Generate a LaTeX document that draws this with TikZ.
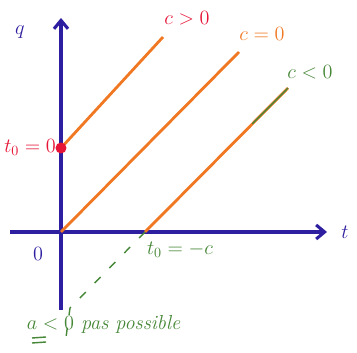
\documentclass[tikz,border=0pt]{standalone}
\usepackage{amsmath,amssymb}
\usepackage{tikz}
\usetikzlibrary{arrows.meta,calc}

\definecolor{axisblue}{RGB}{46,30,160}
\definecolor{lineorange}{RGB}{240,120,35}
\definecolor{penred}{RGB}{230,20,55}
\definecolor{pengreen}{RGB}{70,135,55}

\begin{document}
\begin{tikzpicture}[x=0.25mm,y=-0.25mm,>={Straight Barb[length=6pt,width=10pt]},
  axis/.style={->,line width=2.2pt,color=axisblue},
  traj/.style={line width=2pt,color=lineorange},
  lab/.style={font=\Large\itshape}]
  \useasboundingbox (0,0) rectangle (357,353);
  \coordinate (O) at (61,232);
  \coordinate (Ybot) at (61,310);
  \coordinate (Ytop) at (61,18);
  \coordinate (Xleft) at (10,232);
  \coordinate (Xright) at (327,232);
  \coordinate (P) at (61,148);
  \coordinate (Q) at (145,232);
  \coordinate (Pend) at (163,37);
  \coordinate (Oend) at (239,52);
  \coordinate (Qend) at (288,88);
  \coordinate (D1) at (70,308);
  \coordinate (D2) at (65,345);
  % axes
  \draw[axis] (Ybot) -- (Ytop);
  \draw[axis] (Xleft) -- (Xright);
  \node[lab,text=axisblue] (qlab) at (20,32) {$q$};
  \node[lab,text=axisblue] (tlab) at (345,232) {$t$};
  \node[lab,text=axisblue] (zero) at (38,254) {$0$};
  % trajectoires
  \draw[traj] (P) -- (Pend);
  \draw[traj] (O) -- (Oend);
  \draw[traj] (Q) -- (Qend);
  \draw[line width=1pt,color=pengreen] ($(Q)!0.75!(Qend)$) -- (Qend);
  \fill[penred] (P) circle (5.5);
  \node[lab,text=penred] (c1) at (187,18) {$c>0$};
  \node[lab,text=lineorange] (c2) at (262,34) {$c=0$};
  \node[lab,text=pengreen] (c3) at (310,72) {$c<0$};
  \node[lab,text=penred] (t1) at (30,147) {$t_0=0$};
  \node[lab,text=pengreen] (t2) at (180,250) {$t_0=-c$};
  % hors domaine
  \draw[pengreen,line width=1pt,dash pattern=on 6pt off 9pt] (Q) -- (D1) -- (D2);
  \node[lab,text=pengreen,anchor=west] (rem) at (22,324) {$a<0$ pas possible};
  \draw[pengreen,line width=1pt] (32,338) -- (46,337) (32,343) -- (46,342);
\end{tikzpicture}
\end{document}
